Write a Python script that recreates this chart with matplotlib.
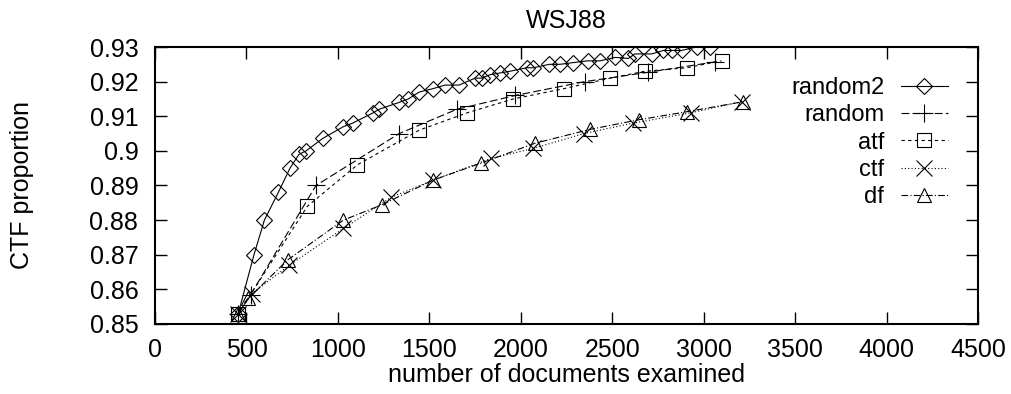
import matplotlib
matplotlib.use("Agg")
import matplotlib.pyplot as plt
from matplotlib.ticker import FuncFormatter

plt.rcParams['font.family'] = ['Liberation Sans', 'DejaVu Sans']

# data
random2_x = [455, 541, 598, 674, 738, 787, 826, 917, 1030, 1080, 1193, 1224, 1335,
             1385, 1445, 1522, 1585, 1662, 1750, 1786, 1832, 1886, 1941, 2032, 2068,
             2156, 2214, 2287, 2365, 2433, 2515, 2588, 2624, 2716, 2779, 2825, 2879,
             2961, 3034]
random2_y = [0.853, 0.870, 0.880, 0.888, 0.895, 0.899, 0.900, 0.9036, 0.907, 0.908,
             0.911, 0.912, 0.914, 0.915, 0.917, 0.918, 0.919, 0.919, 0.921, 0.921,
             0.922, 0.9225, 0.923, 0.924, 0.924, 0.925, 0.925, 0.9255, 0.926, 0.926,
             0.927, 0.9267, 0.928, 0.928, 0.929, 0.929, 0.929, 0.930, 0.930]

random_x = [455, 523, 880, 1335, 1650, 1970, 2349, 2697, 3062]
random_y = [0.853, 0.8585, 0.890, 0.905, 0.912, 0.916, 0.920, 0.9227, 0.9257]

atf_x = [455, 833, 1107, 1445, 1707, 1959, 2238, 2488, 2679, 2907, 3098]
atf_y = [0.853, 0.884, 0.896, 0.906, 0.911, 0.915, 0.918, 0.921, 0.923, 0.924, 0.926]

ctf_x = [455, 528, 735, 1030, 1292, 1522, 1837, 2068, 2345, 2613, 2930, 3207]
ctf_y = [0.853, 0.8587, 0.867, 0.8776, 0.8866, 0.8916, 0.8978, 0.9007, 0.905,
         0.908, 0.911, 0.9142]

df_x = [455, 510, 725, 1030, 1239, 1518, 1780, 2077, 2378, 2647, 2907, 3216]
df_y = [0.853, 0.8574, 0.8685, 0.880, 0.8844, 0.8915, 0.8964, 0.9022, 0.9062,
        0.909, 0.9113, 0.9142]

x_ticks = [0, 500, 1000, 1500, 2000, 2500, 3000, 3500, 4000, 4500]
y_ticks = [0.85, 0.86, 0.87, 0.88, 0.89, 0.90, 0.91, 0.92, 0.93]

fs = 18

fig = plt.figure(figsize=(10.12, 3.94), dpi=100)
ax = fig.add_axes([0.1532, 0.1777, 0.8132, 0.703])

common = dict(color='black', lw=0.8, mfc='none', mec='black', mew=0.8)
ax.plot(random2_x, random2_y, marker='D', ms=8, ls='-', label='random2', **common)
ax.plot(random_x, random_y, marker='+', ms=13, ls=(0, (7, 3)), label='random', **common)
ax.plot(atf_x, atf_y, marker='s', ms=10, ls=(0, (3, 3)), label='atf', **common)
ax.plot(ctf_x, ctf_y, marker='x', ms=11, ls=(0, (1, 2)), label='ctf', **common)
ax.plot(df_x, df_y, marker='^', ms=10, ls=(0, (6, 2, 1, 2)), label='df', **common)

ax.set_xlim(0, 4500)
ax.set_ylim(0.85, 0.93)
ax.set_xticks(x_ticks)
ax.set_yticks(y_ticks)
ax.yaxis.set_major_formatter(FuncFormatter(lambda v, p: '%g' % round(v, 2)))
ax.tick_params(direction='in', length=8.5, width=1, top=True, right=True,
               labelsize=fs)
ax.tick_params(axis='x', pad=10)
ax.tick_params(axis='y', pad=12)
for s in ax.spines.values():
    s.set_linewidth(1.5)

ax.set_title('WSJ88', fontsize=fs, pad=14)
ax.set_xlabel('number of documents examined', fontsize=fs, labelpad=1)
ax.set_ylabel('CTF proportion', fontsize=fs, labelpad=40)

ax.legend(loc='upper right', bbox_to_anchor=(0.975, 0.925), frameon=False,
          markerfirst=False, fontsize=17, handlelength=2.0, handletextpad=0.7,
          labelspacing=0.22, borderaxespad=0)

fig.savefig('out.png', dpi=100)
